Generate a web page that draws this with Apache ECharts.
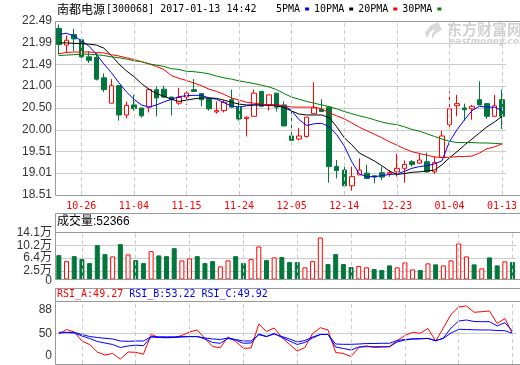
<!DOCTYPE html>
<html>
<head>
<meta charset="utf-8">
<script src="https://cdn.jsdelivr.net/npm/echarts@6/dist/echarts.min.js"></script>
<style>html,body{margin:0;padding:0;background:#fff}#c{width:520px;height:365px}</style>
</head>
<body>
<div id="c"></div>
<script>
// ---------------- data ----------------
const stockName = '南都电源';
const stockCode = '[300068] 2017-01-13 14:42';
const dates = ['10-21','10-24','10-25','10-26','10-27','10-28','10-31','11-01','11-02','11-03','11-04','11-07','11-08','11-09','11-10','11-11','11-14','11-15','11-16','11-17','11-18','11-21','11-22','11-23','11-24','11-25','11-28','11-29','11-30','12-01','12-02','12-05','12-06','12-07','12-08','12-09','12-12','12-13','12-14','12-15','12-16','12-19','12-20','12-21','12-22','12-23','12-26','12-27','12-28','12-29','12-30','01-03','01-04','01-05','01-06','01-09','01-10','01-11','01-12','01-13'];
const gridDates = ['10-26','11-04','11-15','11-24','12-05','12-14','12-23','01-04','01-13'];
const open  = [22.32,21.94,22.18,22.06,21.67,21.66,21.19,20.61,21.01,20.34,20.57,20.50,20.52,20.92,20.93,20.75,20.61,20.75,20.92,20.83,20.71,20.41,20.44,20.69,20.52,20.26,20.31,20.88,20.57,20.84,20.57,19.86,19.79,19.85,20.37,20.47,20.52,19.16,19.08,18.72,18.97,19.01,18.95,19.02,18.99,19.04,19.12,19.27,19.24,19.27,19.04,19.37,20.12,20.55,20.50,20.48,20.69,20.60,20.31,20.69];
const close = [21.95,22.05,22.08,21.67,21.59,21.16,20.92,21.01,20.34,20.56,20.49,20.32,20.92,20.73,20.75,20.69,20.74,20.84,20.88,20.69,20.48,20.44,20.63,20.52,20.25,20.29,20.84,20.54,20.80,20.52,20.09,19.76,19.86,20.29,20.50,20.42,19.16,19.07,18.72,18.93,19.08,18.89,18.92,18.92,19.02,19.12,19.21,19.21,19.31,19.04,19.25,19.86,20.48,20.60,20.46,20.54,20.57,20.31,20.55,20.31];
const low   = [21.72,21.76,21.80,21.62,21.53,21.13,20.86,20.61,20.21,20.26,20.44,20.28,20.40,20.31,20.73,20.33,20.57,20.57,20.88,20.54,20.44,20.37,20.40,20.52,20.21,19.85,20.31,20.54,20.44,20.42,20.09,19.76,19.76,19.82,20.37,20.42,18.79,18.89,18.70,18.61,18.97,18.87,18.78,18.85,18.93,18.93,18.79,19.16,19.22,19.02,18.99,19.37,20.06,20.31,20.21,20.23,20.57,20.25,20.31,20.02];
const high  = [22.41,22.16,22.31,22.08,21.80,21.76,21.29,21.16,21.03,20.65,20.80,20.50,20.96,20.99,21.01,20.76,20.96,20.88,21.16,20.83,20.71,20.65,20.68,20.92,20.65,20.31,20.92,20.88,20.80,20.84,20.65,20.53,20.04,20.29,21.09,20.70,20.55,19.31,19.16,19.16,19.35,19.20,18.95,19.16,19.08,19.45,19.30,19.31,19.45,19.48,19.39,19.98,20.88,20.80,20.60,20.57,21.11,20.60,20.80,20.92];
const ma5  = [22.18,22.21,22.15,22.04,21.92,21.73,21.51,21.31,21.08,20.87,20.70,20.57,20.52,20.57,20.64,20.70,20.76,20.78,20.79,20.79,20.73,20.70,20.62,20.55,20.52,20.55,20.57,20.57,20.57,20.57,20.55,20.44,20.23,20.10,20.14,20.15,20.07,19.89,19.63,19.27,18.99,18.93,18.93,18.95,18.98,18.99,19.05,19.12,19.16,19.18,19.22,19.29,19.73,20.00,20.23,20.44,20.54,20.52,20.52,20.44];
const ma10 = [21.99,21.99,21.98,21.97,21.96,21.94,21.87,21.70,21.51,21.35,21.22,21.06,20.93,20.83,20.77,20.70,20.65,20.68,20.71,20.73,20.73,20.72,20.68,20.63,20.59,20.57,20.57,20.57,20.56,20.55,20.51,20.43,20.36,20.34,20.34,20.34,20.28,20.07,19.82,19.66,19.47,19.38,19.29,19.18,19.06,18.98,19.00,19.03,19.04,19.06,19.08,19.20,19.36,19.50,19.65,19.79,19.93,20.07,20.18,20.31];
const ma20 = [21.74,21.77,21.78,21.78,21.78,21.77,21.76,21.72,21.69,21.65,21.61,21.56,21.51,21.45,21.38,21.24,21.18,21.13,21.07,21.01,20.93,20.88,20.81,20.73,20.68,20.63,20.61,20.59,20.57,20.57,20.55,20.52,20.52,20.52,20.52,20.48,20.39,20.32,20.25,20.16,20.06,19.98,19.90,19.82,19.73,19.65,19.57,19.50,19.46,19.42,19.38,19.37,19.37,19.39,19.39,19.40,19.47,19.57,19.61,19.68];
const ma30 = [21.70,21.71,21.72,21.73,21.73,21.72,21.70,21.67,21.65,21.62,21.58,21.56,21.51,21.48,21.45,21.40,21.38,21.34,21.33,21.31,21.28,21.23,21.19,21.16,21.12,21.09,21.06,21.02,20.98,20.92,20.83,20.75,20.70,20.65,20.61,20.57,20.53,20.48,20.42,20.37,20.32,20.28,20.23,20.18,20.14,20.12,20.07,20.01,19.97,19.91,19.85,19.79,19.74,19.71,19.71,19.71,19.70,19.70,19.69,19.68];
const volume = [73100,55200,70100,61200,49300,103000,76100,69300,106000,75200,58200,49300,85100,72200,70100,94000,57300,63300,70100,49300,55200,39400,57300,70100,49300,61200,99100,58200,66300,67200,52200,52200,36400,55200,126000,46300,76100,46300,37300,40300,36400,31300,28400,42400,36400,51300,30400,28400,48400,45400,42400,57300,108000,69300,45400,33400,66300,42400,54300,52366];
const rsiA = [48.8,56.1,52.0,37.4,31.7,19.5,14.6,17.1,8.1,19.5,19.0,15.8,48.0,43.1,42.8,43.1,46.3,52.0,55.3,41.5,28.5,26.5,43.9,36.6,25.5,26.0,65.0,52.8,58.5,43.1,31.7,21.1,26.8,49.6,59.0,55.3,18.7,17.1,12.2,26.8,29.6,26.8,27.6,28.1,38.2,46.3,51.5,49.9,57.7,37.4,58.5,80.5,92.7,94.3,84.1,85.0,86.2,65.9,74.0,49.27];
const rsiB = [50.4,51.2,50.4,45.5,41.5,36.6,34.1,31.7,26.8,29.3,30.6,29.8,43.9,43.1,42.8,43.1,43.9,44.7,44.7,40.7,35.0,33.7,41.5,39.0,33.7,34.1,48.8,44.7,49.6,43.1,37.4,31.7,35.0,42.3,48.0,48.0,27.6,25.2,22.8,27.6,28.1,28.1,28.1,28.1,35.8,39.0,40.7,41.0,41.8,37.4,42.3,58.5,69.9,71.5,69.1,68.8,68.8,61.8,67.2,53.22];
const rsiC = [51.5,51.5,51.5,48.0,44.7,43.1,41.8,40.7,37.4,36.9,37.4,37.4,44.4,44.2,44.2,44.2,44.4,44.4,44.4,42.3,40.7,39.8,42.3,39.8,37.4,37.4,47.5,44.7,48.8,44.7,40.7,35.8,38.2,43.9,48.0,48.0,32.5,32.0,32.0,32.5,33.3,33.3,33.7,33.7,38.2,39.8,40.7,41.0,41.5,38.2,41.5,50.4,56.4,56.1,55.6,55.3,55.3,54.5,54.1,49.92];
const priceTicks = [18.51,19.01,19.51,20.00,20.50,21.00,21.49,21.99,22.49];
const volTicks = [25000,64000,102000,141000];
const volZeroTick = [0];
const rsiTicks = [0,50,88];
const rsiGrid = [50];
const maNames = ['5PMA','10PMA','20PMA','30PMA'];

// ---------------- style ----------------
const GREEN = '#03773b', RED = '#ff0000', BLUE = '#0000ff';
const FRAME = '#999999', GRIDC = '#cccccc';
const L = 55, W = 461.4;
const G0 = {top: 21, h: 174}, G1 = {top: 232.5, h: 47}, G2 = {top: 301, h: 63};
const VOLMAX = 141000;
const labelFont = {fontFamily: 'Liberation Sans', fontSize: 12, color: '#333'};

const chart = echarts.init(document.getElementById('c'), null, {renderer: 'canvas'});

function catAxis(gi, showLabel) {
  return {
    type: 'category', gridIndex: gi, data: dates, boundaryGap: true,
    axisLine: {show: false}, axisTick: {show: false}, splitLine: {show: false},
    axisLabel: showLabel ? {
      show: true, interval: (i) => (i - 3) % 7 === 0, color: RED,
      fontFamily: 'DejaVu Sans Mono', fontSize: 10, margin: 6,
      alignMinLabel: 'center', alignMaxLabel: 'center', hideOverlap: false
    } : {show: false}
  };
}
function markCarrier(gi) {
  return {
    type: 'line', xAxisIndex: gi, yAxisIndex: gi, data: [], z: 1, silent: true,
    markLine: {
      symbol: 'none', silent: true, animation: false, label: {show: false},
      lineStyle: {color: GRIDC, type: [4, 3], width: 1},
      data: gridDates.map(d => ({xAxis: d}))
    }
  };
}

const volData = volume.map((v, i) => ({
  value: v,
  itemStyle: close[i] >= open[i]
    ? {color: '#ffffff', borderColor: RED, borderWidth: 1}
    : {color: GREEN, borderColor: GREEN, borderWidth: 1}
}));

const maColors = [BLUE, '#000000', RED, '#008000'];
const maData = [ma5, ma10, ma20, ma30];

const option = {
  animation: false,
  backgroundColor: '#ffffff',
  grid: [
    {left: L, width: W, top: G0.top, height: G0.h},
    {left: L, width: W, top: G1.top, height: G1.h},
    {left: L, width: W, top: G2.top, height: G2.h}
  ],
  legend: {
    data: maNames, left: 276, top: 4, padding: 0, align: 'right', icon: 'rect',
    itemWidth: 4, itemHeight: 3, itemGap: 5, selectedMode: false,
    textStyle: {fontFamily: 'DejaVu Sans Mono', fontSize: 10, color: '#000'}
  },
  xAxis: [catAxis(0, true), catAxis(1, false), catAxis(2, false)],
  yAxis: [
    {
      type: 'value', gridIndex: 0, min: 18.51, max: 22.49,
      axisLine: {show: false}, axisTick: {show: false, customValues: priceTicks},
      axisLabel: Object.assign({customValues: priceTicks, margin: 3, formatter: v => v.toFixed(2),
        showMinLabel: true, showMaxLabel: true, hideOverlap: false}, labelFont),
      splitLine: {show: true, lineStyle: {color: GRIDC, width: 1}}
    },
    {
      type: 'value', gridIndex: 1, min: 0, max: VOLMAX,
      axisLine: {show: false}, axisTick: {show: false, customValues: volTicks},
      axisLabel: Object.assign({customValues: volTicks, margin: 3,
        showMinLabel: true, showMaxLabel: true, hideOverlap: false,
        formatter: v => (v / 10000).toFixed(1) + '万'
      }, labelFont, {fontFamily: 'Liberation Sans, Noto Sans CJK SC'}),
      splitLine: {show: true, lineStyle: {color: GRIDC, width: 1}}
    },
    {
      type: 'value', gridIndex: 2, min: 0, max: 102.4,
      axisLine: {show: false}, axisTick: {show: false, customValues: rsiGrid},
      axisLabel: Object.assign({customValues: rsiTicks, margin: 3,
        showMinLabel: true, showMaxLabel: true, hideOverlap: false,
        formatter: v => v === 0 ? '{lo|0}' : String(v),
        rich: {lo: {fontFamily: 'Liberation Sans', fontSize: 12, color: '#333', padding: [0, 0, 16, 0]}}
      }, labelFont),
      splitLine: {show: true, lineStyle: {color: GRIDC, width: 1}}
    },
    {
      // zero label of the volume panel (separate axis so it is not culled next to 2.5万)
      type: 'value', gridIndex: 1, min: 0, max: VOLMAX, position: 'left', offset: 0,
      axisLine: {show: false}, axisTick: {show: false, customValues: volZeroTick}, splitLine: {show: false},
      axisLabel: Object.assign({customValues: volZeroTick, margin: 3, showMinLabel: true,
        formatter: v => '{z|' + v + '}',
        rich: {z: {fontFamily: 'Liberation Sans', fontSize: 12, color: '#333', padding: [3, 0, 0, 0]}}
      }, labelFont)
    }
  ],
  series: [
    markCarrier(0), markCarrier(1), markCarrier(2),
    {
      type: 'candlestick', name: 'K', xAxisIndex: 0, yAxisIndex: 0, barWidth: 5,
      data: dates.map((d, i) => [open[i], close[i], low[i], high[i]]),
      itemStyle: {color: '#ffffff', color0: GREEN, borderColor: RED, borderColor0: GREEN, borderWidth: 1}
    },
    ...maNames.map((n, k) => ({
      type: 'line', name: n, xAxisIndex: 0, yAxisIndex: 0, data: maData[k],
      symbol: 'none', lineStyle: {color: maColors[k], width: 1}, itemStyle: {color: maColors[k]}, z: 3
    })),
    {
      type: 'bar', name: 'VOL', xAxisIndex: 1, yAxisIndex: 1, barWidth: 5, data: volData
    },
    {type: 'line', name: 'RSI_A', xAxisIndex: 2, yAxisIndex: 2, data: rsiA, symbol: 'none', lineStyle: {color: RED, width: 1}},
    {type: 'line', name: 'RSI_B', xAxisIndex: 2, yAxisIndex: 2, data: rsiB, symbol: 'none', lineStyle: {color: BLUE, width: 1}},
    {type: 'line', name: 'RSI_C', xAxisIndex: 2, yAxisIndex: 2, data: rsiC, symbol: 'none', lineStyle: {color: BLUE, width: 1}}
  ],
  graphic: [
    // watermark
    {type: 'text', left: 447, top: 22, z: 0, silent: true,
      style: {text: '东方财富网', fill: '#d2d2d2', font: 'bold 15px "Noto Sans CJK SC"'}},
    {type: 'text', left: 449, top: 37, z: 0, silent: true,
      style: {text: 'eastmoney.com', fill: '#d2d2d2', font: 'italic bold 9px "DejaVu Sans"'}},
    {type: 'polygon', z: 0, silent: true,
      shape: {points: [[438, 22], [430, 26], [425, 33], [427, 38], [430, 32], [436, 28], [432, 34], [432, 39], [436, 33], [442, 30], [440, 26]]},
      style: {fill: '#d8d8d8'}},
    // title
    {type: 'text', left: 57, top: 3, z: 20,
      style: {text: stockName, fill: '#000', font: '12px "Noto Sans CJK SC"'}},
    {type: 'text', left: 106, top: 4, z: 20,
      style: {text: stockCode, fill: '#000', font: '10px "DejaVu Sans Mono"'}},
    // frames
    {type: 'rect', z: 20, silent: true, shape: {x: L + 0.5, y: G0.top + 0.5, width: 480, height: G0.h}, style: {fill: 'none', stroke: FRAME, lineWidth: 1}},
    {type: 'rect', z: 20, silent: true, shape: {x: L + 0.5, y: 213.5, width: 480, height: 19}, style: {fill: 'none', stroke: FRAME, lineWidth: 1}},
    {type: 'rect', z: 20, silent: true, shape: {x: L + 0.5, y: G1.top, width: 480, height: G1.h}, style: {fill: 'none', stroke: FRAME, lineWidth: 1}},
    {type: 'rect', z: 20, silent: true, shape: {x: L + 0.5, y: 288.5, width: 480, height: 13}, style: {fill: 'none', stroke: FRAME, lineWidth: 1}},
    {type: 'rect', z: 20, silent: true, shape: {x: L + 0.5, y: G2.top + 0.5, width: 480, height: G2.h}, style: {fill: 'none', stroke: FRAME, lineWidth: 1}},
    // panel headers
    {type: 'text', left: 57, top: 216, z: 21,
      style: {text: '成交量:' + volume[volume.length - 1], fill: '#000',
        font: '12px "Liberation Sans", "Noto Sans CJK SC"'}},
    {type: 'text', left: 57, top: 289, z: 21,
      style: {text: '{a|RSI_A:' + rsiA[rsiA.length - 1].toFixed(2) + '} {b|RSI_B:' + rsiB[rsiB.length - 1].toFixed(2) + '} {c|RSI_C:' + rsiC[rsiC.length - 1].toFixed(2) + '}',
        font: '10px "DejaVu Sans Mono"',
        rich: {a: {fill: RED, font: '10px "DejaVu Sans Mono"'},
               b: {fill: BLUE, font: '10px "DejaVu Sans Mono"'},
               c: {fill: BLUE, font: '10px "DejaVu Sans Mono"'}}}}
  ]
};
chart.setOption(option);
</script>
</body>
</html>
